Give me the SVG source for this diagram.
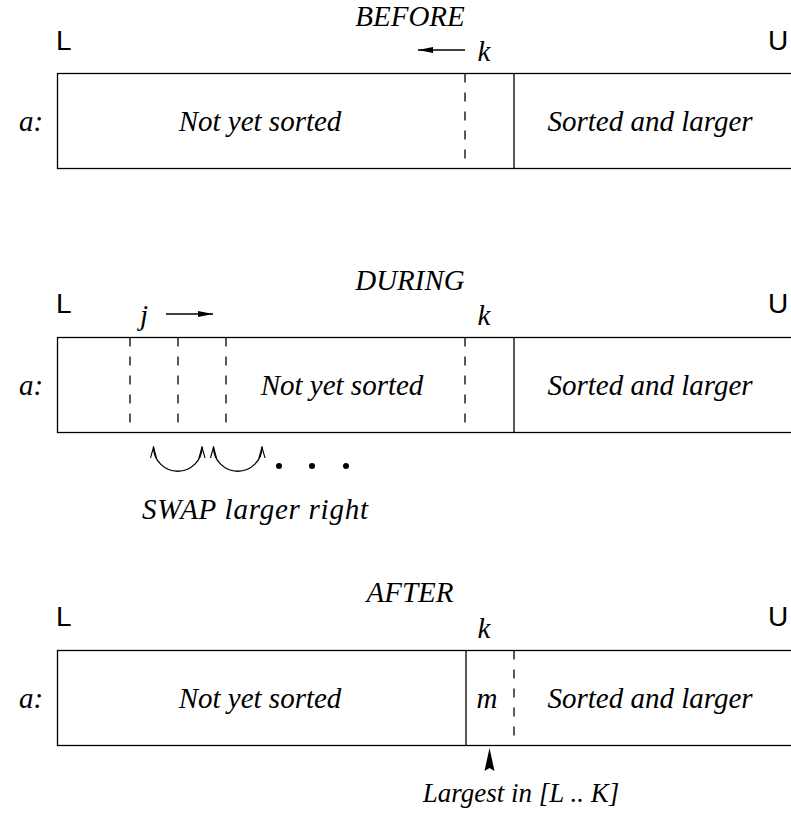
<svg xmlns="http://www.w3.org/2000/svg" width="791" height="817" viewBox="0 0 791 817">
<style>
.t{font-family:"Liberation Serif","Times New Roman",serif;font-style:italic;font-size:29px;fill:#000}
.s{font-family:"Liberation Sans",Arial,sans-serif;font-size:28px;fill:#000}
.box{fill:none;stroke:#000;stroke-width:1.3}
.sol{stroke:#000;stroke-width:1.3}
.dash{stroke:#000;stroke-width:1.3;stroke-dasharray:9 10}
.arr{stroke:#000;stroke-width:1.3;fill:none}
</style>
<defs>
<marker id="ah" markerWidth="16" markerHeight="8" refX="15" refY="4" orient="auto" markerUnits="userSpaceOnUse">
<path d="M0,1 L15,4 L0,7 Z" fill="#000"/>
</marker>
<marker id="va" markerWidth="12" markerHeight="8" refX="11" refY="4" orient="auto-start-reverse" markerUnits="userSpaceOnUse">
<path d="M0,1 L11,4 L0,7" fill="none" stroke="#000" stroke-width="1.1"/>
</marker>
</defs>
<rect width="791" height="817" fill="#fff"/>

<g id="before">
<text class="t" x="410" y="26" text-anchor="middle">BEFORE</text>
<text class="s" x="56" y="50">L</text>
<text class="s" x="768" y="50">U</text>
<text class="t" x="484" y="61" text-anchor="middle">k</text>
<text class="t" x="31" y="131" text-anchor="middle">a:</text>
<rect class="box" x="57.5" y="73.5" width="760" height="95"/>
<line class="dash" x1="465" y1="73.5" x2="465" y2="168.5"/>
<line class="sol" x1="514" y1="73.5" x2="514" y2="168.5"/>
<text class="t" x="260" y="131" text-anchor="middle">Not yet sorted</text>
<text class="t" x="650" y="131" text-anchor="middle">Sorted and larger</text>
</g>

<g id="during">
<text class="t" x="410" y="290" text-anchor="middle">DURING</text>
<text class="s" x="56" y="313">L</text>
<text class="s" x="768" y="313">U</text>
<text class="t" x="144" y="325" text-anchor="middle">j</text>
<text class="t" x="484" y="325" text-anchor="middle">k</text>
<text class="t" x="31" y="395" text-anchor="middle">a:</text>
<rect class="box" x="57.5" y="337.5" width="760" height="95"/>
<line class="dash" x1="130" y1="337.5" x2="130" y2="432.5"/>
<line class="dash" x1="178" y1="337.5" x2="178" y2="432.5"/>
<line class="dash" x1="226" y1="337.5" x2="226" y2="432.5"/>
<line class="dash" x1="465" y1="337.5" x2="465" y2="432.5"/>
<line class="sol" x1="514" y1="337.5" x2="514" y2="432.5"/>
<text class="t" x="342" y="395" text-anchor="middle">Not yet sorted</text>
<text class="t" x="650" y="395" text-anchor="middle">Sorted and larger</text>
<circle cx="279" cy="466" r="3" fill="#000"/>
<circle cx="312" cy="466" r="3" fill="#000"/>
<circle cx="346" cy="466" r="3" fill="#000"/>
<text class="t" x="255" y="519" text-anchor="middle" textLength="226" lengthAdjust="spacing">SWAP larger right</text>
</g>

<g id="after">
<text class="t" x="410" y="602" text-anchor="middle">AFTER</text>
<text class="s" x="56" y="626">L</text>
<text class="s" x="768" y="626">U</text>
<text class="t" x="484" y="638" text-anchor="middle">k</text>
<text class="t" x="31" y="708" text-anchor="middle">a:</text>
<rect class="box" x="57.5" y="650.5" width="760" height="95"/>
<line class="sol" x1="466" y1="650.5" x2="466" y2="745.5"/>
<line class="dash" x1="514" y1="650.5" x2="514" y2="745.5"/>
<text class="t" x="260" y="708" text-anchor="middle">Not yet sorted</text>
<text class="t" x="487" y="708" text-anchor="middle">m</text>
<text class="t" x="650" y="708" text-anchor="middle">Sorted and larger</text>
<text class="t" x="521" y="802" text-anchor="middle" style="font-size:27px">Largest in [L .. K]</text>
</g>

<g id="connectors">
<line class="arr" x1="465" y1="50" x2="418" y2="50" marker-end="url(#ah)"/>
<line class="arr" x1="166" y1="314" x2="213" y2="314" marker-end="url(#ah)"/>
<path class="arr" d="M153.5,447 A24.25,24.25 0 0 0 202,447" marker-start="url(#va)" marker-end="url(#va)"/>
<path class="arr" d="M213.5,447 A24.25,24.25 0 0 0 262,447" marker-start="url(#va)" marker-end="url(#va)"/>
<polygon points="489.5,748 484.5,771 489.5,768 494.5,771" fill="#000"/>
</g>
</svg>
